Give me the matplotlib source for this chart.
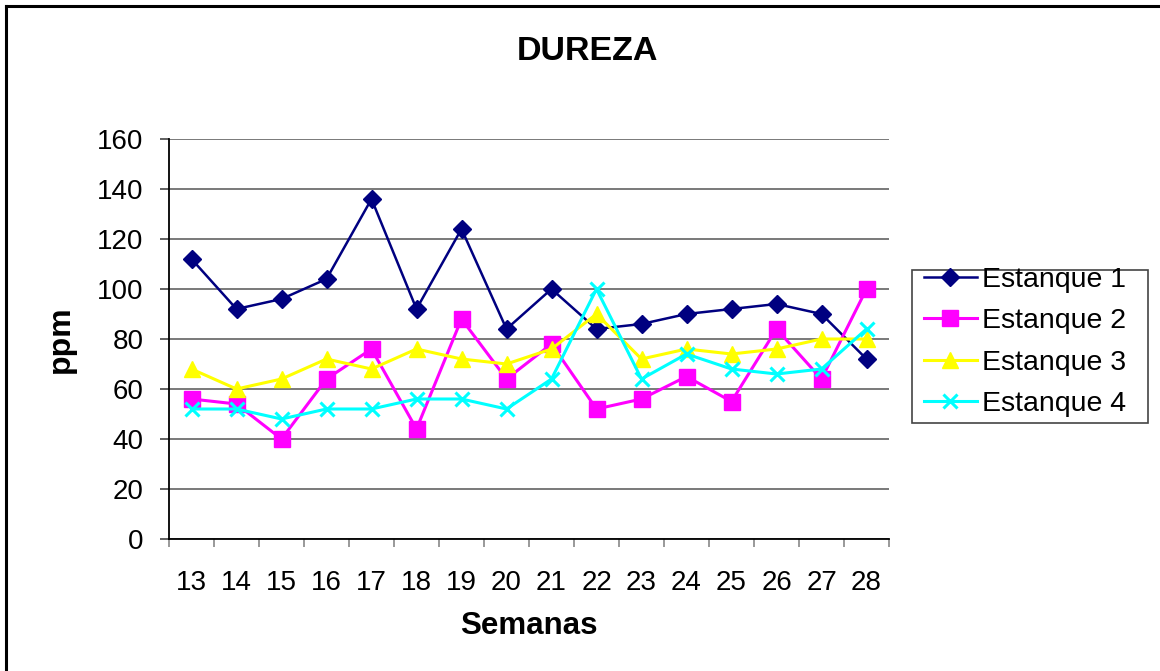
import matplotlib
matplotlib.use("Agg")
import matplotlib.pyplot as plt
from matplotlib.lines import Line2D
from matplotlib.patches import Rectangle
import numpy as np

plt.rcParams['font.family'] = ['Liberation Sans', 'DejaVu Sans']

semanas = ["13", "14", "15", "16", "17", "18", "19", "20", "21", "22", "23", "24", "25", "26", "27", "28"]
estanque1 = [112, 92, 96, 104, 136, 92, 124, 84, 100, 84, 86, 90, 92, 94, 90, 72]
estanque2 = [56, 54, 40, 64, 76, 44, 88, 64, 78, 52, 56, 65, 55, 84, 64, 100]
estanque3 = [68, 60, 64, 72, 68, 76, 72, 70, 76, 90, 72, 76, 74, 76, 80, 80]
estanque4 = [52, 52, 48, 52, 52, 56, 56, 52, 64, 100, 64, 74, 68, 66, 68, 84]
yticks = [0, 20, 40, 60, 80, 100, 120, 140, 160]

W, H = 1160, 671
fig = plt.figure(figsize=(W / 100, H / 100), dpi=100)
ax = fig.add_axes([169 / W, 1 - 539 / H, 720 / W, 400 / H])

x = np.arange(len(semanas))
ax.plot(x, estanque1, color="#000080", lw=1.8, marker="D", ms=9.5, label="Estanque 1", zorder=3)
ax.plot(x, estanque2, color="#FF00FF", lw=2.2, marker="s", ms=11.5, label="Estanque 2", zorder=3)
ax.plot(x, estanque3, color="#FFFF00", lw=2.2, marker="^", ms=12, label="Estanque 3", zorder=3)
ax.plot(x, estanque4, color="#00FFFF", lw=2.2, marker="x", ms=10.5, mew=2.2, label="Estanque 4", zorder=3)

ax.set_xlim(-0.5, len(semanas) - 0.5)
ax.set_ylim(0, 160)
ax.set_yticks(yticks)
ax.yaxis.grid(True, color="#555555", lw=1.1)
ax.set_axisbelow(True)
ax.set_xticks(x)
ax.set_xticklabels(semanas)
ax.set_xticks(np.arange(-0.5, len(semanas), 1.0), minor=True)
ax.tick_params(axis="x", which="major", length=0, pad=22, labelsize=20)
ax.tick_params(axis="x", which="minor", length=6, color="#888888", width=1.2, direction="out")
ax.tick_params(axis="y", length=6.5, width=1.2, color="#444444", labelsize=20, pad=12)
for s in ["top", "right"]:
    ax.spines[s].set_visible(False)
for s in ["left", "bottom"]:
    ax.spines[s].set_color("black")
    ax.spines[s].set_linewidth(1.3)

ax.set_xlabel("Semanas", fontsize=22.5, fontweight="bold", labelpad=11)
ax.set_ylabel("ppm", fontsize=23, fontweight="bold", labelpad=15)
fig.text(587 / W, 1 - 52 / H, "DUREZA", fontsize=24.5, fontweight="bold", ha="center", va="center")

# legend frame
fig.add_artist(Rectangle((912 / W, 1 - 423 / H), 236 / W, 153 / H, transform=fig.transFigure,
                         facecolor="white", edgecolor="#444444", lw=1.2, zorder=4))
leg = fig.legend(loc="upper left", bbox_to_anchor=(924 / W, 1 - 267 / H), fontsize=20.5,
                 frameon=False, handlelength=1.85, handletextpad=0.18, labelspacing=0.54,
                 borderpad=0, borderaxespad=0)
leg.set_zorder(5)

# outer chart border (left and top visible)
fig.add_artist(Line2D([5.5 / W, 5.5 / W], [0, 1 - 5.5 / H], transform=fig.transFigure, color="black", lw=2.2))
fig.add_artist(Line2D([5.5 / W, 1], [1 - 5.5 / H, 1 - 5.5 / H], transform=fig.transFigure, color="black", lw=2.2))

fig.savefig("out.png", dpi=100)
